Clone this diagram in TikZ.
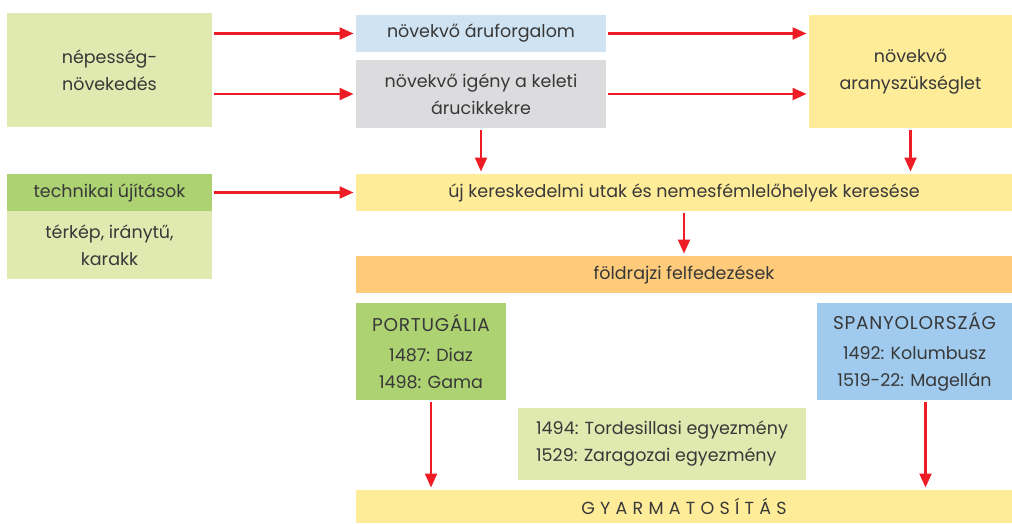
\documentclass[tikz,border=0pt]{standalone}
\usepackage{fontspec}
\setmainfont{Poppins}
\usetikzlibrary{arrows.meta}
\definecolor{txt}{HTML}{383838}
\definecolor{lgreen}{HTML}{E0EAB0}
\definecolor{dgreen}{HTML}{ACD272}
\definecolor{lblue}{HTML}{CFE3F3}
\definecolor{lgray}{HTML}{DCDCDE}
\definecolor{yel}{HTML}{FFEC99}
\definecolor{orng}{HTML}{FDCB7A}
\definecolor{dblue}{HTML}{A0CBEE}
\definecolor{arr}{HTML}{EE1C25}
\newcommand{\capsword}[1]{{\fontsize{18.5}{27}\selectfont\addfontfeatures{LetterSpace=4}#1}}
\tikzset{
  box/.style={inner sep=0pt, outer sep=0pt, align=center, text=txt, font=\fontsize{17.5}{27}\selectfont},
  conn/.style={draw=arr, line width=2.2pt, -{Triangle[length=14pt,width=12pt]}, shorten >=2.5pt, shorten <=2pt},
}
\begin{document}
\begin{tikzpicture}[x=1pt,y=-1pt]
\useasboundingbox (0,0) rectangle (1012,523);
\node[box, fill=lgreen, minimum width=205pt, minimum height=114pt] (nep) at (109.5,70) {népesség-\\növekedés};
\node[box, fill=lblue, minimum width=250pt, minimum height=37pt] (aru) at (481,33.5) {növekvő áruforgalom};
\node[box, fill=lgray, minimum width=250pt, minimum height=68pt] (igeny) at (481,94) {növekvő igény a keleti\\árucikkekre};
\node[box, fill=yel, minimum width=203pt, minimum height=113pt] (arany) at (910.5,71.5) {növekvő\\aranyszükséglet};
\node[box, fill=dgreen, minimum width=205pt, minimum height=37pt] (tech) at (109.5,192.5) {technikai újítások};
\node[box, fill=lgreen, minimum width=205pt, minimum height=68pt] (terkep) at (109.5,245) {térkép, iránytű,\\karakk};
\node[box, fill=yel, minimum width=656pt, minimum height=37pt] (uj) at (684,192.5) {új kereskedelmi utak és nemesfémlelőhelyek keresése};
\node[box, fill=orng, minimum width=656pt, minimum height=37pt] (fold) at (684,274.5) {földrajzi felfedezések};
\node[box, fill=dgreen, minimum width=150pt, minimum height=97pt] (port) at (431,351.5) {\capsword{PORTUGÁLIA}\\[3pt]1487: Diaz\\1498: Gama};
\node[box, fill=dblue, minimum width=195pt, minimum height=97pt] (span) at (914.5,351.5) {\capsword{SPANYOLORSZÁG}\\[3pt]1492: Kolumbusz\\1519-22: Magellán};
\node[box, fill=lgreen, minimum width=288pt, minimum height=72pt, align=left] (tord) at (662,444) {1494: Tordesillasi egyezmény\\1529: Zaragozai egyezmény};
\node[box, fill=yel, minimum width=656pt, minimum height=33pt] (gyarm) at (684,506.5) {\addfontfeatures{LetterSpace=30}GYARMATOSÍTÁS};
\coordinate (spanout) at ([xshift=11pt]span.south);
\draw[conn] (nep.east |- aru.west) -- (aru.west);
\draw[conn] (nep.east |- igeny.west) -- (igeny.west);
\draw[conn] (aru.east) -- (aru.east -| arany.west);
\draw[conn] (igeny.east) -- (igeny.east -| arany.west);
\draw[conn] (igeny.south) -- (igeny.south |- uj.north);
\draw[conn] (arany.south) -- (arany.south |- uj.north);
\draw[conn] (tech.east) -- (tech.east -| uj.west);
\draw[conn] (uj.south) -- (fold.north);
\draw[conn] (port.south) -- (port.south |- gyarm.north);
\draw[conn] (spanout) -- (spanout |- gyarm.north);
\end{tikzpicture}
\end{document}
